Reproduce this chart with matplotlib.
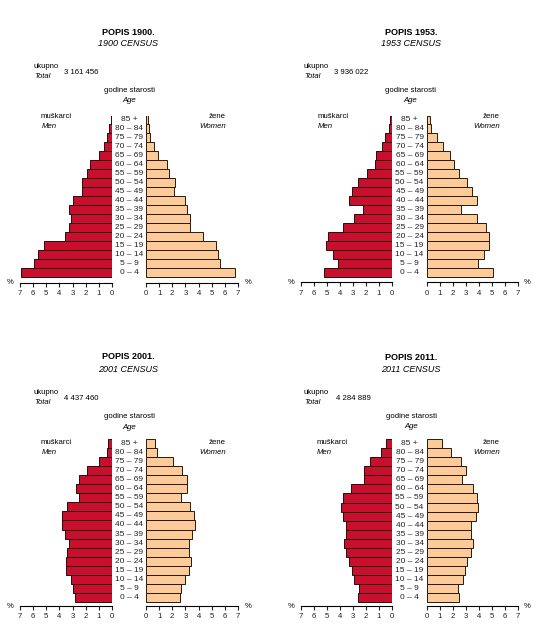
import matplotlib
matplotlib.use("Agg")
import matplotlib.pyplot as plt
import matplotlib.transforms as mtransforms

plt.rcParams['font.family'] = ['Liberation Sans Narrow', 'Liberation Sans', 'DejaVu Sans']

# ---------------- data ----------------
age_groups = ["0 – 4", "5 – 9", "10 – 14", "15 – 19", "20 – 24", "25 – 29", "30 – 34",
              "35 – 39", "40 – 44", "45 – 49", "50 – 54", "55 – 59", "60 – 64",
              "65 – 69", "70 – 74", "75 – 79", "80 – 84", "85 +"]

years = ["1900", "1953", "2001", "2011"]
totals = ["3 161 456", "3 936 022", "4 437 460", "4 284 889"]

# percent of total population, from 0-4 up to 85+
men_1900 = [6.9, 5.9, 5.6, 5.2, 3.6, 3.25, 3.15, 3.3, 3.0, 2.25, 2.25, 1.9, 1.7, 1.0, 0.6, 0.35, 0.2, 0.05]
women_1900 = [6.74, 5.65, 5.45, 5.35, 4.37, 3.38, 3.38, 3.15, 3.0, 2.1, 2.17, 1.75, 1.6, 0.9, 0.58, 0.3, 0.2, 0.12]

men_1953 = [5.2, 4.14, 4.53, 5.04, 4.9, 3.76, 2.9, 2.2, 3.3, 3.07, 2.6, 1.92, 1.3, 1.23, 0.8, 0.55, 0.25, 0.15]
women_1953 = [5.05, 3.9, 4.36, 4.8, 4.8, 4.5, 3.82, 2.6, 3.82, 3.44, 3.05, 2.44, 2.05, 1.77, 1.2, 0.74, 0.3, 0.2]

men_2001 = [2.82, 2.93, 3.13, 3.5, 3.5, 3.43, 3.3, 3.6, 3.84, 3.84, 3.43, 2.5, 2.77, 2.5, 1.9, 1.0, 0.4, 0.33]
women_2001 = [2.56, 2.69, 3.0, 3.27, 3.4, 3.27, 3.27, 3.5, 3.76, 3.68, 3.38, 2.69, 3.12, 3.12, 2.74, 2.08, 0.86, 0.71]

men_2011 = [2.6, 2.52, 2.9, 3.05, 3.28, 3.56, 3.66, 3.56, 3.56, 3.74, 3.9, 3.74, 3.13, 2.16, 2.19, 1.68, 0.81, 0.46]
women_2011 = [2.49, 2.42, 2.8, 2.95, 3.1, 3.41, 3.56, 3.41, 3.41, 3.79, 3.94, 3.87, 3.56, 2.72, 3.03, 2.65, 1.81, 1.12]

men = [men_1900, men_1953, men_2001, men_2011]
women = [women_1900, women_1953, women_2001, women_2011]

ticks = [0, 1, 2, 3, 4, 5, 6, 7]

# ---------------- layout (pixels) ----------------
W, H = 540, 643
RED = "#C8102E"
PEACH = "#FDCB99"

fig = plt.figure(figsize=(W / 100, H / 100), dpi=100)

def fx(x):
    return x / W

def fy(y):
    return 1 - y / H

# per panel: left-axis x (7), left-axis x (0), right x (0), right x (7), bar top, bar bottom, axis line y
panels = [
    dict(L=(20, 112), R=(146, 238), top=115.5, bot=277, axis=282.5,
         title=(128.5, 32.5), census=44, uk=(33, 67), tot=(34, 77), num=(64, 73),
         god=(129, 91), age=101, musk=(41, 117), men=127, zene=(225.5, 117), women=127,
         pctL=(10, 283), pctR=(248, 283), mid=129),
    dict(L=(301, 392), R=(427, 518), top=115.5, bot=277, axis=282,
         title=(411, 32.5), census=44, uk=(303, 67), tot=(304, 77), num=(334.5, 73),
         god=(410.5, 91), age=101, musk=(317.5, 117), men=127, zene=(499.5, 117), women=127,
         pctL=(291.5, 283), pctR=(527, 283), mid=409.5),
    dict(L=(20, 112), R=(146, 238), top=438.5, bot=602.3, axis=605.7,
         title=(128.5, 356.7), census=370, uk=(33, 392.7), tot=(34, 402.7), num=(64, 398.5),
         god=(129, 416.7), age=427.3, musk=(41, 442.5), men=452.7, zene=(226, 442.5), women=452.7,
         pctL=(10, 607), pctR=(248, 607), mid=129),
    dict(L=(301, 392), R=(427, 518), top=439, bot=602.3, axis=605.7,
         title=(411, 357.3), census=370, uk=(303.3, 392.7), tot=(304, 402.7), num=(336.5, 398.5),
         god=(411, 416.7), age=427, musk=(316.7, 442.5), men=452.7, zene=(500, 442.5), women=452.7,
         pctL=(291.5, 607), pctR=(527, 607), mid=409.5),
]

n = len(age_groups)
ypos = list(range(n))
FS = 5.6

for k, p in enumerate(panels):
    unit = (p["bot"] - p["top"]) / n
    ymin = -0.5 - (p["axis"] - p["bot"]) / unit
    ymax = n - 0.5
    ax_bottom = fy(p["axis"])
    ax_h = (p["axis"] - p["top"]) / H

    axL = fig.add_axes([fx(p["L"][0]), ax_bottom, (p["L"][1] - p["L"][0]) / W, ax_h])
    axR = fig.add_axes([fx(p["R"][0]), ax_bottom, (p["R"][1] - p["R"][0]) / W, ax_h])

    axL.barh(ypos, men[k], height=1.0, color=RED, edgecolor="#2a0a0a", linewidth=0.7)
    axR.barh(ypos, women[k], height=1.0, color=PEACH, edgecolor="#2a1a0a", linewidth=0.7)

    axL.set_xlim(7, 0)
    axR.set_xlim(0, 7)
    for ax in (axL, axR):
        ax.set_ylim(ymin, ymax)
        ax.set_xticks(ticks)
        ax.set_xticklabels([str(t) for t in ticks])
        ax.set_yticks([])
        for s in ("top", "left", "right"):
            ax.spines[s].set_visible(False)
        ax.spines["bottom"].set_linewidth(0.8)
        ax.tick_params(axis="x", direction="out", length=3, width=0.8, pad=2.5,
                       labelsize=FS, colors="#222222")
        ax.patch.set_visible(False)

    # age labels between the halves
    tr = mtransforms.blended_transform_factory(fig.transFigure, axL.transData)
    for i, lab in enumerate(age_groups):
        axL.text(fx(p["mid"]), i, lab, transform=tr, ha="center", va="center",
                 fontsize=FS + 0.4, color="#222222", clip_on=False)

    # texts
    fig.text(fx(p["title"][0]), fy(p["title"][1]), f"POPIS {years[k]}.", ha="center", va="center",
             fontsize=6.5, fontweight="bold")
    fig.text(fx(p["title"][0]), fy(p["census"]), f"{years[k]} CENSUS", ha="center", va="center",
             fontsize=6.5, style="italic")
    fig.text(fx(p["uk"][0]), fy(p["uk"][1]), "ukupno", ha="left", va="center", fontsize=FS)
    fig.text(fx(p["tot"][0]), fy(p["tot"][1]), "Total", ha="left", va="center", fontsize=FS, style="italic")
    fig.text(fx(p["num"][0]), fy(p["num"][1]), totals[k], ha="left", va="center", fontsize=FS)
    fig.text(fx(p["god"][0]), fy(p["god"][1]), "godine starosti", ha="center", va="center", fontsize=FS)
    fig.text(fx(p["god"][0]), fy(p["age"]), "Age", ha="center", va="center", fontsize=FS, style="italic")
    fig.text(fx(p["musk"][0]), fy(p["musk"][1]), "muškarci", ha="left", va="center", fontsize=FS)
    fig.text(fx(p["musk"][0] + 0.5), fy(p["men"]), "Men", ha="left", va="center", fontsize=FS, style="italic")
    fig.text(fx(p["zene"][0]), fy(p["zene"][1]), "žene", ha="right", va="center", fontsize=FS)
    fig.text(fx(p["zene"][0]), fy(p["women"]), "Women", ha="right", va="center", fontsize=FS, style="italic")
    fig.text(fx(p["pctL"][0]), fy(p["pctL"][1]), "%", ha="center", va="center", fontsize=FS)
    fig.text(fx(p["pctR"][0]), fy(p["pctR"][1]), "%", ha="center", va="center", fontsize=FS)

fig.savefig("out.png", dpi=100)
